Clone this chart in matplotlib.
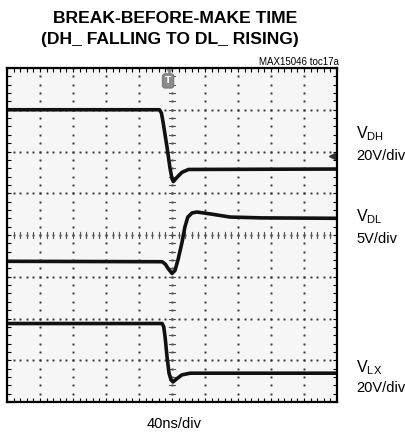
import numpy as np
import matplotlib
matplotlib.use('Agg')
import matplotlib.pyplot as plt

# scope traces in divisions (x: 0-10, y: 0-8)
t_dh = [0, 4.62, 4.68, 4.73, 4.85, 4.94, 5.0, 5.04, 5.15, 5.3, 5.5, 10]
v_dh = [7.0, 7.0, 6.92, 6.7, 6.1, 5.6, 5.35, 5.28, 5.38, 5.5, 5.57, 5.58]

t_dl = [0, 4.70, 4.80, 4.88, 5.0, 5.09, 5.18, 5.30, 5.39, 5.48, 5.61, 5.76, 6.2, 6.76, 7.7, 10]
v_dl = [3.37, 3.36, 3.30, 3.20, 3.08, 3.15, 3.40, 3.81, 4.19, 4.43, 4.53, 4.55, 4.50, 4.43, 4.41, 4.40]

t_lx = [0, 4.70, 4.75, 4.79, 4.85, 4.91, 4.97, 5.03, 5.15, 5.30, 5.55, 10]
v_lx = [1.88, 1.88, 1.80, 1.56, 1.08, 0.69, 0.53, 0.48, 0.56, 0.65, 0.69, 0.69]

ch_names = [r'$\mathregular{V_{DH}}$', r'$\mathregular{V_{DL}}$', r'$\mathregular{V_{LX}}$']
ch_scales = ['20V/div', '5V/div', '20V/div']

plt.rcParams['font.family'] = ['Liberation Sans', 'DejaVu Sans']

W, H = 406, 436
fig = plt.figure(figsize=(W / 100, H / 100), dpi=100)
ax = fig.add_axes([7 / W, 1 - 402 / H, 330 / W, 334 / H])
ax.set_facecolor('#f6f6f6')
ax.set_xlim(0, 10)
ax.set_ylim(0, 8)

# dotted graticule
sub_x = np.arange(0, 10.01, 0.2)
sub_y = np.arange(0, 8.01, 0.2)
for gy in range(1, 8):
    ax.plot(sub_x, np.full_like(sub_x, gy), ls='none', marker='s', ms=1.4, color='#333333', mec='none')
for gx in range(1, 10):
    ax.plot(np.full_like(sub_y, gx), sub_y, ls='none', marker='s', ms=1.4, color='#333333', mec='none')
# centre cross with minor ticks
for yy in sub_y:
    ax.plot([4.91, 5.09], [yy, yy], color='#555555', lw=0.8)
for xx in sub_x:
    ax.plot([xx, xx], [3.93, 4.07], color='#555555', lw=0.8)

ax.tick_params(which='both', direction='in', length=3, width=0.8, top=True, right=True,
               labelbottom=False, labelleft=False)
ax.set_xticks(np.arange(0, 10.01, 1))
ax.set_yticks(np.arange(0, 8.01, 1))
ax.set_xticks(sub_x, minor=True)
ax.set_yticks(sub_y, minor=True)
for s in ax.spines.values():
    s.set_linewidth(1.6)

for t, v in [(t_dh, v_dh), (t_dl, v_dl), (t_lx, v_lx)]:
    ax.plot(t, v, color='#111111', lw=2.6, solid_joinstyle='round')

# trigger marker and level marker
ax.text(4.88, 7.69, 'T', color='white', fontsize=6.5, fontweight='bold', ha='center', va='center',
        family='DejaVu Sans',
        bbox=dict(boxstyle='round,pad=0.3', fc='#8a8a8a', ec='#666666', lw=0.5))
ax.plot([4.9], [7.95], marker='v', ms=4, color='#888888', clip_on=False)
ax.plot([9.86], [5.89], marker='<', ms=5, color='#333333', clip_on=False)
ax.plot([9.86, 9.98], [5.89, 5.89], color='#333333', lw=1.2)

# text
fig.text(175 / W, 1 - 23 / H, 'BREAK-BEFORE-MAKE TIME', ha='center', va='baseline',
         fontsize=12.6, fontweight='bold')
fig.text(170 / W, 1 - 44 / H, '(DH_ FALLING TO DL_ RISING)', ha='center', va='baseline',
         fontsize=12.6, fontweight='bold')
fig.text(339 / W, 1 - 65 / H, 'MAX15046 toc17a', ha='right', va='baseline', fontsize=7)

name_base = [138, 221, 372]
scale_base = [160, 243, 392]
for nm, sc, yb, ys in zip(ch_names, ch_scales, name_base, scale_base):
    fig.text(356 / W, 1 - yb / H, nm, ha='left', va='baseline', fontsize=11.5)
    fig.text(356 / W, 1 - ys / H, sc, ha='left', va='baseline', fontsize=10.5)

fig.text(174 / W, 1 - 428 / H, '40ns/div', ha='center', va='baseline', fontsize=10.5)

fig.savefig('out.png', dpi=100)
